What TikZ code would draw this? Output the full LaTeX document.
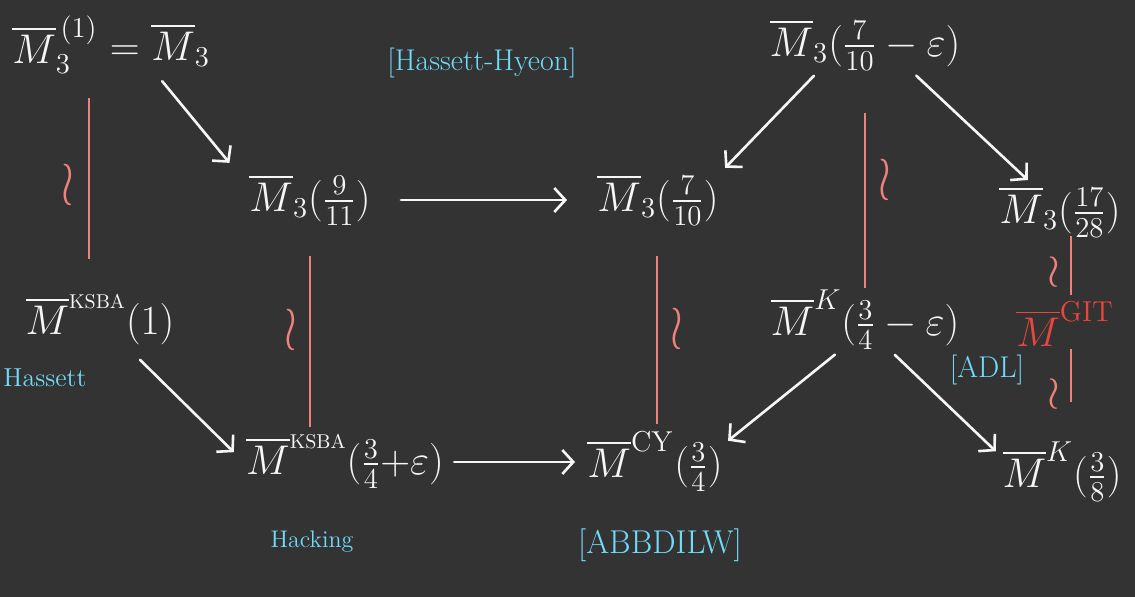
\documentclass[tikz,border=0pt]{standalone}
\usepackage{amsmath}
\usetikzlibrary{arrows.meta}
\DeclareMathSizes{20.74}{20.74}{14.4}{10}
\definecolor{BoardGrey}{RGB}{51,51,51}
\definecolor{ChalkWhite}{RGB}{246,246,246}
\definecolor{IsoPink}{RGB}{240,130,125}
\definecolor{GitRed}{RGB}{234,70,62}
\definecolor{RefCyan}{RGB}{112,220,250}

\tikzset{
  space/.style={text=ChalkWhite, font=\fontsize{20.74}{25}\selectfont, inner sep=1pt},
  mapto/.style={draw=ChalkWhite, line width=1.3pt, line cap=round,
    -{Straight Barb[length=5.5pt,width=12pt,line width=1.3pt]}},
  iso/.style={draw=IsoPink, line width=1.3pt},
  wrmark/.style={text=IsoPink, font=\fontsize{20.74}{25}\selectfont, inner sep=0pt},
  cite/.style={text=RefCyan, font=\fontsize{15}{18}\selectfont},
}
\newcommand{\isosign}[1][1.5]{\scalebox{1.1}[#1]{$\wr$}}

\begin{document}
\begin{tikzpicture}[x=0.5pt,y=-0.5pt]
  % Board
  \fill[BoardGrey] (0,0) rectangle (1135,597);
  \useasboundingbox (0,0) rectangle (1135,597);

  % Moduli spaces, top
  \node[space] (m3one) at (55,45) {$\overline{M}_3^{\,(1)}$};
  \node[space] (m3eq) at (160,45) {$=\overline{M}_3$};
  \node[space] (m3nine) at (310,200) {$\overline{M}_3(\tfrac{9}{11})$};
  \node[space] (m3seven) at (658,200) {$\overline{M}_3(\tfrac{7}{10})$};
  \node[space] (m3eps) at (865,45) {$\overline{M}_3(\tfrac{7}{10}-\varepsilon)$};
  \node[space] (m3ss) at (1060,212) {$\overline{M}_3(\tfrac{17}{28})$};

  % Moduli spaces, bottom
  \node[space] (ksbaone) at (100,320) {$\overline{M}^{\scriptscriptstyle\mathrm{KSBA}}(1)$};
  \node[space] (ksbaeps) at (345,462) {$\overline{M}^{\scriptscriptstyle\mathrm{KSBA}}(\tfrac34{+}\varepsilon)$};
  \node[space] (cy) at (655,462) {$\overline{M}^{\mathrm{CY}}(\tfrac34)$};
  \node[space] (keps) at (865,320) {$\overline{M}^{K}(\tfrac34-\varepsilon)$};
  \node[space, text=GitRed] (git) at (1065,324) {$\overline{M}^{\mathrm{GIT}}$};
  \node[space] (kthree) at (1062,472) {$\overline{M}^{K}(\tfrac38)$};

  % Maps
  \draw[mapto, shorten <=8pt, shorten >=6pt] ([xshift=-4pt]m3eq.south) -- ([xshift=-5pt]m3nine.north west);
  \draw[mapto, shorten <=14pt, shorten >=14pt] (m3nine.east) -- (m3seven.west);
  \draw[mapto, shorten <=2pt, shorten >=3pt] (m3eps.-150) -- (m3seven.north east);
  \draw[mapto, shorten <=2pt, shorten >=3pt] (m3eps.-30) -- (m3ss.135);
  \draw[mapto, shorten <=9pt, shorten >=7pt] (ksbaone.-45) -- (ksbaeps.west);
  \draw[mapto, shorten <=4pt, shorten >=5pt] (ksbaeps.east) -- (cy.west);
  \draw[mapto, shorten <=2pt, shorten >=2pt] (keps.-130) -- (cy.15);
  \draw[mapto, shorten <=2pt, shorten >=3pt] (keps.-50) -- (kthree.165);

  % Isomorphisms
  \draw[iso, shorten <=11pt, shorten >=17pt] ([xshift=17pt]m3one.south)
    -- node[wrmark, left=7pt] {\isosign} ([xshift=17pt]m3one.south |- ksbaone.north);
  \draw[iso, shorten <=14pt, shorten >=3pt] (m3nine.south)
    -- node[wrmark, left=6pt] {\isosign} (m3nine.south |- ksbaeps.north);
  \draw[iso, shorten <=14pt, shorten >=3pt] ([xshift=-0.5pt]m3seven.south)
    -- node[wrmark, right=6pt] {\isosign} ([xshift=-0.5pt]m3seven.south |- cy.north);
  \draw[iso, shorten <=20pt, shorten >=0pt] (m3eps.south)
    -- node[wrmark, right=6pt] {\isosign} (m3eps.south |- keps.north);
  \draw[iso, shorten <=-2pt, shorten >=2pt] ([xshift=5.5pt]m3ss.south)
    -- node[wrmark, left=5pt, pos=0.55] {\isosign[1.1]} ([xshift=5.5pt]m3ss.south |- git.north);
  \draw[iso, shorten <=0pt, shorten >=19pt] ([xshift=3pt]git.south)
    -- node[wrmark, left=5pt, pos=0.5] {\isosign[1.1]} ([xshift=3pt]git.south |- kthree.north);

  % References
  \node[cite] (hh) at (482,63) {[Hassett-Hyeon]};
  \node[cite, font=\fontsize{13}{15}\selectfont] (has) at (45,378) {Hassett};
  \node[cite, font=\fontsize{12}{14}\selectfont] (hac) at (312,542) {Hacking};
  \node[cite, font=\fontsize{16.5}{19}\selectfont] (abb) at (660,545) {[ABBDILW]};
  \node[cite] (adl) at (987,370) {[ADL]};
\end{tikzpicture}
\end{document}
